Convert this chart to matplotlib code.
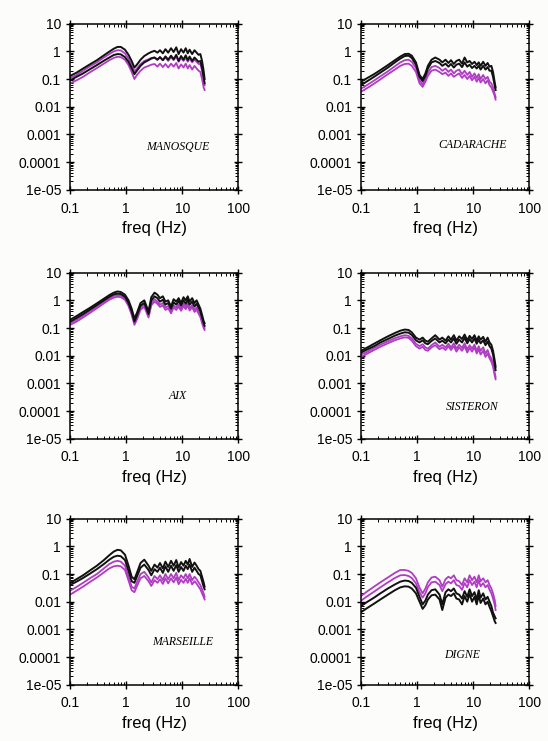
# Spectral ratios at six stations: black vs magenta curves, log-log panels

import matplotlib
matplotlib.use("Agg")
import matplotlib.pyplot as plt
from matplotlib.ticker import FixedLocator, LogLocator, NullFormatter

plt.rcParams["font.family"] = ["Liberation Sans", "DejaVu Sans"]

# frequency grid shared by all curves (Hz)
freq = [0.1, 0.13, 0.17, 0.22, 0.3, 0.4, 0.5, 0.6, 0.7, 0.8, 0.95, 1.1, 1.25, 1.4,
        1.55, 1.8, 2.1, 2.5, 2.8, 3.2, 3.6, 4.0, 4.5, 5.0, 5.6, 6.3, 7.0, 7.8, 8.6,
        9.5, 10.5, 11.5, 12.5, 13.5, 15, 16.5, 18, 19.5, 21, 22.5, 24, 25]

stations = ["MANOSQUE", "CADARACHE", "AIX", "SISTERON", "MARSEILLE", "DIGNE"]

# MANOSQUE
man_b1 = [0.13, 0.17, 0.24, 0.33, 0.48, 0.72, 0.98, 1.25, 1.45, 1.45, 1.15, 0.75, 0.45, 0.26,
          0.33, 0.5, 0.68, 0.85, 0.95, 1.05, 0.9, 1.1, 0.85, 1.2, 0.9, 1.3, 0.95, 1.4, 0.8,
          1.2, 0.9, 1.3, 0.85, 1.15, 0.8, 1.1, 0.9, 0.75, 0.8, 0.45, 0.2, 0.1]
man_b2 = [0.09, 0.12, 0.16, 0.22, 0.32, 0.46, 0.6, 0.74, 0.8, 0.78, 0.62, 0.42, 0.25, 0.15,
          0.2, 0.3, 0.4, 0.48, 0.55, 0.6, 0.5, 0.62, 0.48, 0.66, 0.5, 0.7, 0.52, 0.75, 0.45,
          0.68, 0.5, 0.72, 0.48, 0.65, 0.45, 0.6, 0.5, 0.42, 0.45, 0.25, 0.12, 0.07]
man_m1 = [0.11, 0.14, 0.2, 0.28, 0.4, 0.6, 0.8, 1.0, 1.1, 1.08, 0.85, 0.55, 0.32, 0.19,
          0.24, 0.35, 0.45, 0.52, 0.58, 0.6, 0.5, 0.62, 0.48, 0.6, 0.45, 0.62, 0.48, 0.65, 0.42,
          0.58, 0.45, 0.6, 0.42, 0.55, 0.4, 0.5, 0.42, 0.35, 0.35, 0.2, 0.1, 0.06]
man_m2 = [0.07, 0.09, 0.12, 0.17, 0.25, 0.36, 0.48, 0.58, 0.64, 0.62, 0.5, 0.32, 0.18, 0.1,
          0.14, 0.2, 0.26, 0.3, 0.33, 0.35, 0.28, 0.36, 0.27, 0.35, 0.26, 0.36, 0.28, 0.38, 0.24,
          0.34, 0.26, 0.36, 0.24, 0.32, 0.22, 0.3, 0.24, 0.2, 0.18, 0.1, 0.05, 0.04]

# CADARACHE
cad_b1 = [0.08, 0.11, 0.15, 0.21, 0.32, 0.48, 0.65, 0.8, 0.82, 0.7, 0.4, 0.14, 0.1, 0.16,
          0.3, 0.5, 0.6, 0.5, 0.4, 0.5, 0.38, 0.48, 0.35, 0.45, 0.5, 0.36, 0.6, 0.4, 0.45,
          0.35, 0.42, 0.32, 0.4, 0.3, 0.42, 0.3, 0.38, 0.28, 0.3, 0.18, 0.08, 0.05]
cad_b2 = [0.06, 0.085, 0.12, 0.17, 0.26, 0.4, 0.55, 0.68, 0.7, 0.58, 0.33, 0.12, 0.085, 0.13,
          0.24, 0.4, 0.45, 0.38, 0.3, 0.36, 0.28, 0.35, 0.26, 0.33, 0.36, 0.27, 0.4, 0.28, 0.33,
          0.25, 0.3, 0.24, 0.3, 0.22, 0.3, 0.22, 0.27, 0.2, 0.2, 0.12, 0.06, 0.04]
cad_m1 = [0.045, 0.062, 0.088, 0.125, 0.19, 0.29, 0.4, 0.48, 0.5, 0.42, 0.25, 0.09, 0.065, 0.1,
          0.17, 0.27, 0.3, 0.25, 0.2, 0.24, 0.18, 0.22, 0.16, 0.2, 0.22, 0.15, 0.2, 0.14, 0.18,
          0.12, 0.16, 0.11, 0.15, 0.1, 0.14, 0.1, 0.12, 0.08, 0.07, 0.05, 0.03, 0.022]
cad_m2 = [0.035, 0.048, 0.068, 0.097, 0.15, 0.22, 0.3, 0.35, 0.36, 0.3, 0.18, 0.07, 0.052, 0.08,
          0.13, 0.2, 0.22, 0.18, 0.15, 0.17, 0.13, 0.16, 0.12, 0.14, 0.16, 0.11, 0.14, 0.1, 0.13,
          0.09, 0.12, 0.08, 0.11, 0.075, 0.1, 0.07, 0.09, 0.06, 0.05, 0.035, 0.025, 0.018]

# AIX
aix_b1 = [0.2, 0.27, 0.38, 0.52, 0.78, 1.15, 1.55, 1.9, 2.1, 2.0, 1.6, 1.0, 0.5, 0.22,
          0.35, 0.8, 1.0, 0.4, 1.3, 1.9, 1.6, 1.2, 1.4, 0.9, 1.0, 0.6, 1.1, 0.9, 1.2,
          0.8, 1.3, 1.0, 1.4, 0.9, 1.2, 0.8, 1.0, 0.7, 0.5, 0.3, 0.18, 0.15]
aix_b2 = [0.17, 0.23, 0.32, 0.45, 0.68, 1.0, 1.35, 1.65, 1.75, 1.7, 1.35, 0.8, 0.4, 0.17,
          0.28, 0.65, 0.8, 0.32, 1.0, 1.4, 1.2, 0.9, 1.05, 0.7, 0.8, 0.5, 0.85, 0.7, 0.95,
          0.65, 1.0, 0.75, 1.05, 0.7, 0.9, 0.6, 0.75, 0.55, 0.4, 0.24, 0.15, 0.12]
aix_m1 = [0.15, 0.2, 0.28, 0.4, 0.6, 0.9, 1.2, 1.45, 1.55, 1.5, 1.2, 0.72, 0.36, 0.15,
          0.24, 0.55, 0.7, 0.28, 0.8, 1.1, 0.9, 0.7, 0.8, 0.55, 0.62, 0.4, 0.66, 0.55, 0.72,
          0.5, 0.75, 0.58, 0.8, 0.52, 0.68, 0.45, 0.56, 0.4, 0.3, 0.18, 0.12, 0.1]
aix_m2 = [0.13, 0.17, 0.24, 0.34, 0.52, 0.78, 1.05, 1.25, 1.35, 1.3, 1.05, 0.62, 0.3, 0.13,
          0.2, 0.46, 0.58, 0.24, 0.66, 0.9, 0.75, 0.58, 0.66, 0.45, 0.52, 0.34, 0.55, 0.45, 0.6,
          0.42, 0.62, 0.48, 0.66, 0.43, 0.56, 0.38, 0.46, 0.33, 0.25, 0.15, 0.1, 0.085]

# SISTERON
sis_b1 = [0.015, 0.02, 0.027, 0.036, 0.05, 0.066, 0.08, 0.088, 0.085, 0.07, 0.045, 0.038, 0.045, 0.035,
          0.032, 0.042, 0.055, 0.038, 0.045, 0.035, 0.05, 0.038, 0.055, 0.035, 0.05, 0.04, 0.058, 0.036,
          0.052, 0.04, 0.055, 0.035, 0.05, 0.038, 0.048, 0.032, 0.045, 0.03, 0.025, 0.015, 0.007, 0.004]
sis_b2 = [0.013, 0.017, 0.022, 0.03, 0.04, 0.053, 0.063, 0.07, 0.068, 0.056, 0.036, 0.03, 0.036, 0.028,
          0.026, 0.034, 0.042, 0.03, 0.035, 0.028, 0.038, 0.03, 0.042, 0.027, 0.038, 0.03, 0.044, 0.028,
          0.04, 0.03, 0.042, 0.027, 0.038, 0.028, 0.036, 0.024, 0.032, 0.022, 0.018, 0.011, 0.005, 0.003]
sis_m1 = [0.011, 0.014, 0.019, 0.025, 0.033, 0.043, 0.05, 0.055, 0.052, 0.042, 0.027, 0.022, 0.026, 0.02,
          0.018, 0.024, 0.03, 0.021, 0.025, 0.02, 0.027, 0.02, 0.028, 0.018, 0.025, 0.019, 0.028, 0.017,
          0.024, 0.018, 0.025, 0.015, 0.022, 0.015, 0.02, 0.012, 0.016, 0.01, 0.008, 0.005, 0.0025, 0.0017]
sis_m2 = [0.009, 0.012, 0.016, 0.021, 0.028, 0.036, 0.042, 0.046, 0.044, 0.035, 0.022, 0.018, 0.021, 0.016,
          0.015, 0.02, 0.024, 0.017, 0.02, 0.016, 0.022, 0.016, 0.022, 0.014, 0.02, 0.015, 0.022, 0.013,
          0.019, 0.014, 0.02, 0.012, 0.017, 0.011, 0.015, 0.009, 0.012, 0.008, 0.006, 0.004, 0.002, 0.0014]

# MARSEILLE
mar_b1 = [0.048, 0.065, 0.09, 0.13, 0.2, 0.32, 0.48, 0.65, 0.75, 0.72, 0.5, 0.2, 0.08, 0.065,
          0.11, 0.25, 0.33, 0.2, 0.13, 0.22, 0.17, 0.25, 0.16, 0.28, 0.18, 0.3, 0.2, 0.32, 0.17,
          0.27, 0.2, 0.3, 0.22, 0.35, 0.18, 0.26, 0.2, 0.15, 0.13, 0.08, 0.05, 0.035]
mar_b2 = [0.04, 0.053, 0.072, 0.1, 0.15, 0.23, 0.33, 0.42, 0.46, 0.44, 0.32, 0.13, 0.055, 0.048,
          0.08, 0.17, 0.22, 0.14, 0.09, 0.15, 0.12, 0.17, 0.11, 0.19, 0.12, 0.2, 0.13, 0.21, 0.12,
          0.18, 0.13, 0.2, 0.15, 0.22, 0.12, 0.17, 0.13, 0.1, 0.09, 0.055, 0.035, 0.028]
mar_m1 = [0.025, 0.034, 0.048, 0.068, 0.1, 0.16, 0.23, 0.28, 0.3, 0.28, 0.2, 0.08, 0.035, 0.03,
          0.05, 0.1, 0.12, 0.075, 0.05, 0.085, 0.065, 0.09, 0.06, 0.1, 0.065, 0.1, 0.07, 0.11, 0.06,
          0.09, 0.07, 0.1, 0.07, 0.1, 0.06, 0.08, 0.065, 0.05, 0.04, 0.028, 0.02, 0.015]
mar_m2 = [0.018, 0.025, 0.035, 0.05, 0.075, 0.115, 0.16, 0.19, 0.2, 0.19, 0.14, 0.058, 0.026, 0.022,
          0.036, 0.07, 0.085, 0.055, 0.037, 0.06, 0.048, 0.065, 0.044, 0.07, 0.046, 0.07, 0.05, 0.075, 0.043,
          0.062, 0.048, 0.068, 0.048, 0.07, 0.042, 0.055, 0.045, 0.035, 0.028, 0.02, 0.015, 0.012]

# DIGNE
dig_b1 = [0.007, 0.01, 0.014, 0.02, 0.03, 0.042, 0.053, 0.058, 0.056, 0.048, 0.032, 0.015, 0.008, 0.011,
          0.018, 0.026, 0.028, 0.018, 0.008, 0.022, 0.028, 0.024, 0.03, 0.02, 0.018, 0.013, 0.024, 0.015,
          0.028, 0.016, 0.022, 0.012, 0.026, 0.014, 0.02, 0.012, 0.015, 0.01, 0.007, 0.004, 0.003, 0.0025]
dig_b2 = [0.0042, 0.006, 0.0085, 0.012, 0.018, 0.026, 0.033, 0.036, 0.035, 0.03, 0.02, 0.01, 0.0055, 0.0075,
          0.012, 0.017, 0.018, 0.012, 0.005, 0.014, 0.018, 0.016, 0.02, 0.013, 0.012, 0.008, 0.016, 0.01,
          0.019, 0.01, 0.015, 0.008, 0.017, 0.009, 0.013, 0.008, 0.01, 0.0065, 0.0045, 0.003, 0.002, 0.0017]
dig_m1 = [0.016, 0.024, 0.035, 0.05, 0.075, 0.11, 0.14, 0.14, 0.13, 0.11, 0.07, 0.032, 0.02, 0.03,
          0.05, 0.075, 0.08, 0.06, 0.035, 0.065, 0.08, 0.07, 0.09, 0.06, 0.055, 0.04, 0.07, 0.05,
          0.09, 0.06, 0.08, 0.05, 0.09, 0.055, 0.07, 0.05, 0.06, 0.04, 0.03, 0.02, 0.012, 0.007]
dig_m2 = [0.011, 0.016, 0.023, 0.033, 0.05, 0.072, 0.09, 0.092, 0.085, 0.072, 0.046, 0.022, 0.014, 0.02,
          0.034, 0.05, 0.053, 0.04, 0.024, 0.043, 0.053, 0.046, 0.06, 0.04, 0.037, 0.027, 0.047, 0.033,
          0.06, 0.04, 0.053, 0.033, 0.06, 0.036, 0.047, 0.033, 0.04, 0.027, 0.02, 0.013, 0.008, 0.005]

black_curves = [[man_b1, man_b2], [cad_b1, cad_b2], [aix_b1, aix_b2],
                [sis_b1, sis_b2], [mar_b1, mar_b2], [dig_b1, dig_b2]]
magenta_curves = [[man_m1, man_m2], [cad_m1, cad_m2], [aix_m1, aix_m2],
                  [sis_m1, sis_m2], [mar_m1, mar_m2], [dig_m1, dig_m2]]

yticks = [1e-5, 1e-4, 1e-3, 1e-2, 1e-1, 1, 10]
ytick_labels = ["1e-05", "0.0001", "0.001", "0.01", "0.1", "1", "10"]
xticks = [0.1, 1, 10, 100]
xtick_labels = ["0.1", "1", "10", "100"]

# station label position in axes coords
label_pos = [(0.64, 0.26), (0.66, 0.27), (0.64, 0.26), (0.66, 0.19), (0.67, 0.26), (0.60, 0.18)]

# axes boxes [left, bottom, width, height] in figure fractions
col_left = [0.128, 0.659]
row_bottom = [0.744, 0.408, 0.076]
ax_w, ax_h = 0.307, 0.224

MAGENTA = "#b03cc4"

fig = plt.figure(figsize=(5.48, 7.41), dpi=100, facecolor="#fcfcfa")

for i, name in enumerate(stations):
    r, c = divmod(i, 2)
    ax = fig.add_axes([col_left[c], row_bottom[r], ax_w, ax_h])
    ax.set_facecolor("#fcfcfa")
    for y in magenta_curves[i]:
        ax.plot(freq, y, color=MAGENTA, lw=1.3)
    for y in black_curves[i]:
        ax.plot(freq, y, color="#111111", lw=1.4)

    ax.set_xscale("log")
    ax.set_yscale("log")
    ax.set_xlim(0.1, 100)
    ax.set_ylim(1e-5, 10)
    ax.xaxis.set_major_locator(FixedLocator(xticks))
    ax.set_xticklabels(xtick_labels)
    ax.yaxis.set_major_locator(FixedLocator(yticks))
    ax.set_yticklabels(ytick_labels)
    ax.xaxis.set_minor_locator(LogLocator(base=10, subs=range(2, 10)))
    ax.yaxis.set_minor_locator(LogLocator(base=10, subs=range(2, 10), numticks=20))
    ax.xaxis.set_minor_formatter(NullFormatter())
    ax.yaxis.set_minor_formatter(NullFormatter())
    ax.tick_params(axis="x", which="major", pad=5.5)
    ax.tick_params(which="major", direction="inout", length=6, width=1,
                   top=True, right=True, labelsize=10)
    ax.tick_params(which="minor", direction="in", length=2.5, width=0.7,
                   top=True, right=True)
    for s in ax.spines.values():
        s.set_linewidth(1.1)
    ax.set_xlabel("freq (Hz)", fontsize=12, labelpad=4)
    lx, ly = label_pos[i]
    ax.text(lx, ly, name, transform=ax.transAxes, ha="center", va="center",
            fontsize=8.5, style="italic", family=["Liberation Serif", "DejaVu Serif"])

fig.savefig("out.png", dpi=100, facecolor=fig.get_facecolor())
